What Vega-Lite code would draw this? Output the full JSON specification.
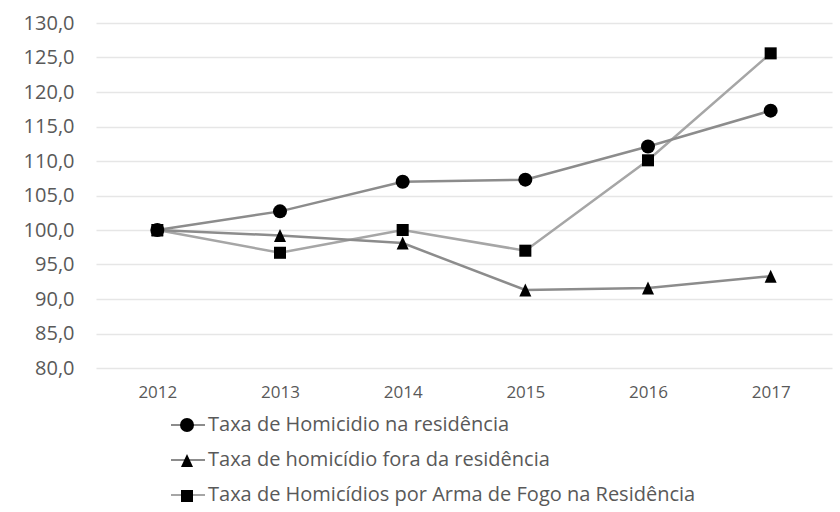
{
  "$schema": "https://vega.github.io/schema/vega-lite/v6.json",
  "autosize": {"type": "none"},
  "padding": {"left": 96, "top": 23, "right": 8, "bottom": 144},
  "width": 736,
  "height": 345,
  "background": "white",
  "config": {
    "view": {"stroke": null},
    "font": "Open Sans"
  },
  "data": {
    "values": [
      {"ano": "2012", "serie": "Taxa de Homicídios por Arma de Fogo na Residência", "simbolo": "Taxa de Homicídios por Arma de Fogo na Residência", "ordem": 3, "valor": 100.0},
      {"ano": "2013", "serie": "Taxa de Homicídios por Arma de Fogo na Residência", "simbolo": "Taxa de Homicídios por Arma de Fogo na Residência", "ordem": 3, "valor": 96.7},
      {"ano": "2014", "serie": "Taxa de Homicídios por Arma de Fogo na Residência", "simbolo": "Taxa de Homicídios por Arma de Fogo na Residência", "ordem": 3, "valor": 100.0},
      {"ano": "2015", "serie": "Taxa de Homicídios por Arma de Fogo na Residência", "simbolo": "Taxa de Homicídios por Arma de Fogo na Residência", "ordem": 3, "valor": 97.0},
      {"ano": "2016", "serie": "Taxa de Homicídios por Arma de Fogo na Residência", "simbolo": "Taxa de Homicídios por Arma de Fogo na Residência", "ordem": 3, "valor": 110.1},
      {"ano": "2017", "serie": "Taxa de Homicídios por Arma de Fogo na Residência", "simbolo": "Taxa de Homicídios por Arma de Fogo na Residência", "ordem": 3, "valor": 125.6},
      {"ano": "2012", "serie": "Taxa de homicídio fora da residência", "simbolo": "Taxa de homicídio fora da residência", "ordem": 2, "valor": 100.0},
      {"ano": "2013", "serie": "Taxa de homicídio fora da residência", "simbolo": "Taxa de homicídio fora da residência", "ordem": 2, "valor": 99.2},
      {"ano": "2014", "serie": "Taxa de homicídio fora da residência", "simbolo": "Taxa de homicídio fora da residência", "ordem": 2, "valor": 98.1},
      {"ano": "2015", "serie": "Taxa de homicídio fora da residência", "simbolo": "Taxa de homicídio fora da residência", "ordem": 2, "valor": 91.3},
      {"ano": "2016", "serie": "Taxa de homicídio fora da residência", "simbolo": "Taxa de homicídio fora da residência", "ordem": 2, "valor": 91.6},
      {"ano": "2017", "serie": "Taxa de homicídio fora da residência", "simbolo": "Taxa de homicídio fora da residência", "ordem": 2, "valor": 93.3},
      {"ano": "2012", "serie": "Taxa de Homicidio na residência", "simbolo": "Taxa de Homicidio na residência", "ordem": 1, "valor": 100.0},
      {"ano": "2013", "serie": "Taxa de Homicidio na residência", "simbolo": "Taxa de Homicidio na residência", "ordem": 1, "valor": 102.7},
      {"ano": "2014", "serie": "Taxa de Homicidio na residência", "simbolo": "Taxa de Homicidio na residência", "ordem": 1, "valor": 107.0},
      {"ano": "2015", "serie": "Taxa de Homicidio na residência", "simbolo": "Taxa de Homicidio na residência", "ordem": 1, "valor": 107.3},
      {"ano": "2016", "serie": "Taxa de Homicidio na residência", "simbolo": "Taxa de Homicidio na residência", "ordem": 1, "valor": 112.1},
      {"ano": "2017", "serie": "Taxa de Homicidio na residência", "simbolo": "Taxa de Homicidio na residência", "ordem": 1, "valor": 117.3}
    ]
  },
  "encoding": {
    "x": {
      "field": "ano", "type": "ordinal",
      "scale": {"type": "point", "padding": 0.5},
      "axis": {
        "title": null, "domain": false, "ticks": false, "tickSize": 0, "grid": false,
        "labelAngle": 0, "labelFont": "Open Sans", "labelFontSize": 17,
        "labelColor": "#595959", "labelPadding": 16
      }
    },
    "y": {
      "field": "valor", "type": "quantitative",
      "scale": {"domain": [80, 130], "nice": false, "zero": false},
      "axis": {
        "title": null, "domain": false, "ticks": false, "tickSize": 0,
        "values": [80, 85, 90, 95, 100, 105, 110, 115, 120, 125, 130],
        "labelExpr": "replace(format(datum.value, '.1f'), '.', ',')",
        "labelFont": "Open Sans", "labelFontSize": 20, "labelColor": "#595959",
        "labelPadding": 22, "grid": true, "gridColor": "#e6e6e6", "gridWidth": 1.5
      }
    }
  },
  "layer": [
    {
      "mark": {"type": "line", "strokeWidth": 2.5},
      "encoding": {
        "color": {
          "field": "serie", "type": "nominal",
          "sort": {"field": "ordem", "op": "min", "order": "ascending"},
          "scale": {"range": ["#8c8c8c", "#8c8c8c", "#a6a6a6"]},
          "legend": {
            "title": null, "orient": "none", "direction": "vertical",
            "legendX": 74, "legendY": 384,
            "symbolType": "stroke", "symbolSize": 1156, "symbolStrokeWidth": 2,
            "symbolStrokeColor": "#7f7f7f",
            "labelFont": "Open Sans", "labelFontSize": 20, "labelColor": "#595959",
            "labelOffset": 2, "labelLimit": 700, "rowPadding": 7, "padding": 0
          }
        }
      }
    },
    {
      "mark": {"type": "point", "filled": true, "opacity": 1, "size": 196, "color": "black", "strokeWidth": 0},
      "encoding": {
        "shape": {
          "field": "simbolo", "type": "nominal",
          "sort": {"field": "ordem", "op": "min", "order": "ascending"},
          "scale": {"range": ["circle", "M0,-0.93L0.86,0.93L-0.86,0.93Z", "M-0.86,-0.86H0.86V0.86H-0.86Z"]},
          "legend": {
            "title": null, "orient": "none", "direction": "vertical",
            "legendX": 74, "legendY": 395,
            "symbolSize": 196, "symbolOffset": 10, "symbolStrokeWidth": 0,
            "symbolFillColor": "black",
            "labelExpr": "''", "labelFontSize": 1,
            "labelOffset": 0, "rowPadding": 21.5, "padding": 0
          }
        }
      }
    }
  ]
}
